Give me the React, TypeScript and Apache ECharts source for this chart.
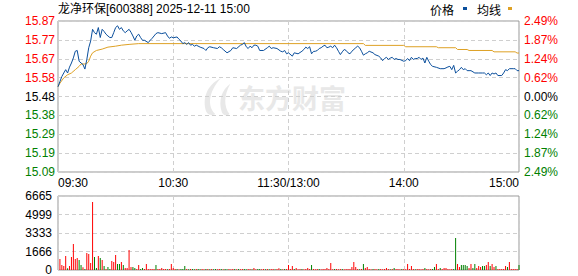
import React, { useEffect, useRef } from "react";
import * as echarts from "echarts";

const TITLE = "龙净环保[600388] 2025-12-11 15:00";
const PREV_CLOSE = 15.48;
const PCT_MAX = 2.49;
const PCT_STEP = 0.6225;
const TIME_LABELS = ["09:30", "10:30", "11:30/13:00", "14:00", "15:00"];
const PRICE_LABELS = ["15.09", "15.19", "15.29", "15.38", "15.48", "15.58", "15.67", "15.77", "15.87"];
const PCT_LABELS = ["2.49%", "1.87%", "1.24%", "0.62%", "0.00%", "0.62%", "1.24%", "1.87%", "2.49%"];
const VOL_LABELS = ["0", "1666", "3333", "4999", "6665"];
const VOL_MAX = 6665;
const LEGEND_NAMES = ["价格", "均线"];
const WATERMARK = "东方财富";

// [minute since 09:30 (trading minutes), price]
const PRICE: [number, number][] = [
  [0, 15.53], [1, 15.556], [2, 15.582], [3, 15.6], [4, 15.617], [5, 15.6], [6, 15.63], [7, 15.651], [8, 15.677], [9, 15.711],
  [10, 15.715], [11, 15.66], [12, 15.651], [13, 15.643], [14, 15.62], [15, 15.669], [16, 15.729], [17, 15.763], [18, 15.823], [19, 15.806],
  [20, 15.798], [21, 15.832], [22, 15.781], [23, 15.823], [24, 15.812], [25, 15.798], [26, 15.789], [27, 15.781], [28, 15.781], [29, 15.806],
  [30, 15.832], [31, 15.841], [32, 15.823], [33, 15.832], [34, 15.815], [35, 15.806], [36, 15.815], [37, 15.823], [38, 15.808], [39, 15.789],
  [40, 15.767], [41, 15.789], [42, 15.798], [43, 15.781], [44, 15.767], [45, 15.767], [47, 15.755], [48, 15.767], [49, 15.777], [50, 15.789],
  [51, 15.801], [52, 15.806], [54, 15.801], [56, 15.806], [57, 15.789], [58, 15.777], [59, 15.784], [60, 15.78], [62, 15.784], [63, 15.772],
  [64, 15.763], [65, 15.75], [66, 15.755], [67, 15.746], [68, 15.755], [69, 15.742], [70, 15.746], [71, 15.737], [72, 15.742], [74, 15.732],
  [76, 15.725], [77, 15.715], [78, 15.729], [79, 15.734], [81, 15.729], [83, 15.725], [84, 15.734], [85, 15.729], [86, 15.72], [88, 15.703],
  [90, 15.715], [91, 15.729], [93, 15.725], [95, 15.742], [96, 15.746], [97, 15.755], [98, 15.734], [99, 15.725], [100, 15.737], [101, 15.729],
  [102, 15.742], [103, 15.742], [104, 15.737], [105, 15.715], [107, 15.715], [109, 15.729], [110, 15.737], [111, 15.725], [112, 15.729], [114, 15.725],
  [116, 15.711], [117, 15.708], [118, 15.715], [119, 15.698], [120, 15.703], [122, 15.686], [123, 15.703], [125, 15.698], [127, 15.711], [128, 15.72],
  [129, 15.732], [130, 15.725], [131, 15.734], [132, 15.698], [133, 15.71], [134, 15.711], [135, 15.715], [136, 15.725], [137, 15.729], [138, 15.737],
  [139, 15.742], [140, 15.729], [141, 15.732], [142, 15.737], [143, 15.729], [144, 15.742], [145, 15.729], [146, 15.711], [147, 15.694], [148, 15.708],
  [149, 15.72], [150, 15.715], [151, 15.703], [152, 15.698], [153, 15.711], [155, 15.729], [156, 15.737], [157, 15.729], [158, 15.711], [159, 15.691],
  [160, 15.698], [161, 15.703], [162, 15.711], [164, 15.703], [165, 15.694], [167, 15.686], [168, 15.677], [169, 15.663], [170, 15.674], [171, 15.68],
  [172, 15.669], [173, 15.676], [174, 15.68], [175, 15.669], [176, 15.674], [177, 15.669], [178, 15.669], [180, 15.66], [181, 15.663], [182, 15.674],
  [183, 15.663], [184, 15.68], [185, 15.669], [186, 15.674], [187, 15.674], [188, 15.68], [189, 15.669], [190, 15.676], [191, 15.651], [192, 15.68],
  [193, 15.66], [194, 15.643], [195, 15.634], [197, 15.629], [199, 15.622], [201, 15.622], [202, 15.626], [203, 15.631], [204, 15.634], [205, 15.617],
  [206, 15.639], [207, 15.6], [208, 15.609], [209, 15.617], [210, 15.629], [211, 15.617], [212, 15.622], [213, 15.612], [214, 15.612], [215, 15.612],
  [217, 15.6], [219, 15.6], [221, 15.6], [222, 15.6], [223, 15.591], [224, 15.6], [225, 15.587], [226, 15.6], [227, 15.595], [228, 15.6],
  [229, 15.587], [231, 15.587], [232, 15.6], [233, 15.617], [234, 15.612], [235, 15.622], [237, 15.622], [238, 15.622], [239, 15.612], [240, 15.612],
];

// [minute, average price]
const AVG: [number, number][] = [
  [0, 15.53], [1, 15.548], [3, 15.575], [5, 15.591], [7, 15.6], [9, 15.617], [11, 15.634], [12, 15.646], [14, 15.646], [15, 15.648],
  [16, 15.66], [17, 15.686], [18, 15.703], [20, 15.715], [23, 15.722], [26, 15.732], [30, 15.737], [33, 15.742], [37, 15.746], [42, 15.75],
  [159, 15.75], [160, 15.741], [180, 15.741], [181, 15.734], [197, 15.734], [198, 15.729], [207, 15.729], [208, 15.72], [213, 15.72], [214, 15.715],
  [226, 15.715], [227, 15.708], [238, 15.708], [239, 15.702], [240, 15.702],
];

// volume per minute, index = minute since 09:30
const VOLUME = [
  0, 990, 450, 360, 1260, 150, 360, 1170, 2340, 990,
  1080, 900, 450, 240, 90, 1530, 1440, 630, 6120, 1170,
  180, 1260, 1080, 900, 360, 90, 270, 90, 810, 720,
  1350, 540, 540, 720, 450, 180, 180, 1800, 270, 270,
  180, 90, 450, 90, 180, 90, 540, 90, 90, 90,
  90, 450, 90, 90, 180, 90, 90, 60, 90, 540,
  180, 90, 90, 60, 90, 90, 360, 90, 60, 90,
  90, 60, 90, 90, 60, 90, 60, 90, 90, 60,
  90, 60, 90, 60, 90, 90, 60, 90, 60, 90,
  60, 90, 90, 60, 90, 60, 90, 90, 60, 90,
  90, 60, 180, 60, 90, 90, 60, 90, 60, 90,
  60, 90, 90, 60, 90, 150, 90, 60, 90, 90,
  450, 90, 360, 90, 180, 60, 90, 90, 60, 90,
  180, 90, 450, 90, 60, 90, 90, 60, 90, 90,
  180, 90, 630, 60, 90, 90, 60, 90, 90, 60,
  90, 90, 90, 270, 720, 270, 90, 60, 90, 540,
  180, 270, 90, 60, 90, 90, 60, 90, 90, 60,
  90, 180, 90, 60, 90, 180, 90, 90, 60, 90,
  90, 60, 540, 90, 360, 90, 60, 90, 90, 60,
  90, 180, 90, 60, 90, 90, 270, 540, 90, 180,
  90, 180, 180, 90, 60, 90, 90, 2880, 540, 270,
  450, 450, 450, 360, 180, 540, 180, 540, 180, 360,
  270, 360, 360, 450, 720, 360, 540, 270, 360, 90,
  90, 90, 90, 360, 270, 720, 90, 90, 90, 90,
  450,
];

// 1 = up minute (red), 0 = down minute (green)
const VOL_UP = [
  1, 1, 1, 1, 1, 0, 1, 1, 1, 1,
  1, 0, 0, 1, 0, 1, 1, 1, 1, 0,
  0, 1, 0, 1, 0, 1, 0, 0, 1, 1,
  1, 0, 0, 1, 0, 1, 1, 1, 1, 0,
  0, 1, 1, 0, 0, 1, 1, 1, 1, 1,
  1, 0, 1, 1, 1, 1, 1, 0, 1, 1,
  1, 1, 0, 1, 0, 0, 0, 1, 0, 1,
  0, 0, 1, 0, 0, 1, 1, 0, 1, 0,
  1, 0, 0, 1, 1, 0, 1, 0, 0, 1,
  1, 1, 0, 1, 0, 1, 1, 0, 0, 1,
  1, 0, 1, 1, 0, 0, 1, 1, 0, 1,
  0, 1, 1, 0, 1, 1, 0, 1, 0, 1,
  1, 1, 1, 0, 1, 1, 1, 0, 1, 1,
  1, 1, 0, 1, 1, 1, 0, 1, 1, 1,
  1, 1, 1, 1, 0, 1, 1, 1, 0, 1,
  1, 1, 1, 1, 1, 1, 1, 0, 1, 0,
  1, 1, 1, 1, 0, 1, 1, 0, 1, 1,
  1, 1, 1, 0, 1, 0, 1, 1, 1, 0,
  1, 1, 1, 1, 1, 1, 0, 1, 1, 1,
  1, 0, 1, 1, 1, 0, 0, 1, 1, 0,
  1, 1, 1, 1, 1, 1, 0, 0, 1, 1,
  0, 0, 0, 0, 1, 1, 0, 0, 1, 1,
  1, 0, 0, 1, 1, 0, 1, 1, 0, 1,
  1, 1, 1, 1, 0, 1, 1, 1, 1, 1,
  0,
];

const LOGO_PATH =
  "M22 0 C10 6 2 18 6 34 C8 40 14 40 16 38 C8 30 8 16 22 0 Z M32 6 C23 12 19 24 23 36 C25 40 29 40 31 38 C25 30 25 18 32 6 Z";
echarts.graphic.registerShape("emlogo", echarts.graphic.extendPath(LOGO_PATH, {}));

const RED = "#ff0000";
const GREEN = "#008000";
const BLUE = "#0b4f9c";
const GOLD = "#dea125";
const FONT = "'Liberation Sans', Arial, 'Noto Sans CJK SC', sans-serif";

export default function App() {
  const ref = useRef<HTMLDivElement>(null);
  useEffect(() => {
    if (!ref.current) return;
    const chart = echarts.init(ref.current, null, { renderer: "svg" });
    const pct = (p: number) => (p / PREV_CLOSE - 1) * 100;
    const idx = (v: number) => Math.round((v + PCT_MAX) / PCT_STEP);
    const colorFor = (v: any) => {
      const i = idx(Number(v));
      return i > 4 ? RED : i < 4 ? GREEN : "#000000";
    };
    const dashed = { show: true, lineStyle: { color: "#cfcfcf", type: [4, 3] as any, width: 1 } };

    chart.setOption({
      animation: false,
      backgroundColor: "#ffffff",
      textStyle: { fontFamily: FONT },
      grid: [
        { left: 58, right: 59, top: 21, height: 151, show: true, borderColor: "#999999", borderWidth: 1 },
        { left: 58, right: 59, top: 196, height: 74, show: true, borderColor: "#999999", borderWidth: 1 },
      ],
      graphic: [
        { type: "emlogo", x: 200, y: 78, scaleX: 0.95, scaleY: 0.95, z: 0, style: { fill: "#e8e8e8" } },
        {
          type: "text", x: 238, y: 97, z: 0,
          style: { text: WATERMARK, fill: "#e8e8e8", font: "bold 27px 'Noto Sans CJK SC', sans-serif", verticalAlign: "middle" },
        },
        {
          type: "text", x: 58, y: 9,
          style: { text: TITLE, fill: "#000", font: "12px 'Liberation Sans', 'Noto Sans CJK SC', sans-serif", verticalAlign: "middle" },
        },
        {
          type: "text", x: 430, y: 9,
          style: { text: LEGEND_NAMES[0], fill: "#000", font: "12px 'Noto Sans CJK SC', sans-serif", verticalAlign: "middle" },
        },
        { type: "rect", shape: { x: 463, y: 7, width: 4, height: 3 }, style: { fill: BLUE } },
        {
          type: "text", x: 477, y: 9,
          style: { text: LEGEND_NAMES[1], fill: "#000", font: "12px 'Noto Sans CJK SC', sans-serif", verticalAlign: "middle" },
        },
        { type: "rect", shape: { x: 508, y: 7, width: 4, height: 3 }, style: { fill: GOLD } },
      ],
      xAxis: [
        {
          type: "value", gridIndex: 0, min: 0, max: 240, interval: 60,
          axisLine: { show: false }, axisTick: { show: false },
          splitLine: dashed,
          axisLabel: {
            color: "#000", fontSize: 12, margin: 5, fontFamily: FONT,
            formatter: (v: number) => TIME_LABELS[Math.round(v / 60)],
            alignMinLabel: "left", alignMaxLabel: "right",
          },
        },
        {
          type: "value", gridIndex: 1, min: 0, max: 240, interval: 60,
          axisLine: { show: false }, axisTick: { show: false },
          splitLine: dashed, axisLabel: { show: false },
        },
      ],
      yAxis: [
        {
          type: "value", gridIndex: 0, position: "left", min: -PCT_MAX, max: PCT_MAX, interval: PCT_STEP,
          axisLine: { show: false }, axisTick: { show: false },
          splitLine: dashed,
          axisLabel: {
            fontSize: 12, margin: 3, fontFamily: FONT,
            formatter: (v: number) => PRICE_LABELS[idx(v)],
            color: colorFor,
          },
        },
        {
          type: "value", gridIndex: 0, position: "right", min: -PCT_MAX, max: PCT_MAX, interval: PCT_STEP,
          axisLine: { show: false }, axisTick: { show: false },
          splitLine: { show: false },
          axisLabel: {
            fontSize: 12, margin: 5, fontFamily: FONT,
            formatter: (v: number) => PCT_LABELS[idx(v)],
            color: colorFor,
          },
        },
        {
          type: "value", gridIndex: 1, min: 0, max: VOL_MAX, interval: VOL_MAX / 4,
          axisLine: { show: false }, axisTick: { show: false },
          splitLine: dashed,
          axisLabel: {
            fontSize: 12, margin: 6, color: "#000", fontFamily: FONT,
            formatter: (v: number) => VOL_LABELS[Math.round(v / (VOL_MAX / 4))],
          },
        },
      ],
      series: [
        {
          name: LEGEND_NAMES[1], type: "line", xAxisIndex: 0, yAxisIndex: 0, z: 3,
          showSymbol: false, symbol: "none",
          lineStyle: { color: GOLD, width: 1 },
          data: AVG.map(([m, p]) => [m, pct(p)]),
        },
        {
          name: LEGEND_NAMES[0], type: "line", xAxisIndex: 0, yAxisIndex: 0, z: 4,
          showSymbol: false, symbol: "none",
          lineStyle: { color: BLUE, width: 1 },
          data: PRICE.map(([m, p]) => [m, pct(p)]),
        },
        {
          name: "成交量", type: "bar", xAxisIndex: 1, yAxisIndex: 2, barWidth: 1,
          data: VOLUME.map((v, i) => ({ value: [i, v], itemStyle: { color: VOL_UP[i] ? RED : GREEN } })),
        },
      ],
    });
    return () => chart.dispose();
  }, []);
  return (
    <div
      ref={ref}
      style={{ position: "absolute", left: 0, top: 0, width: 578, height: 276, background: "#fff" }}
    />
  );
}
